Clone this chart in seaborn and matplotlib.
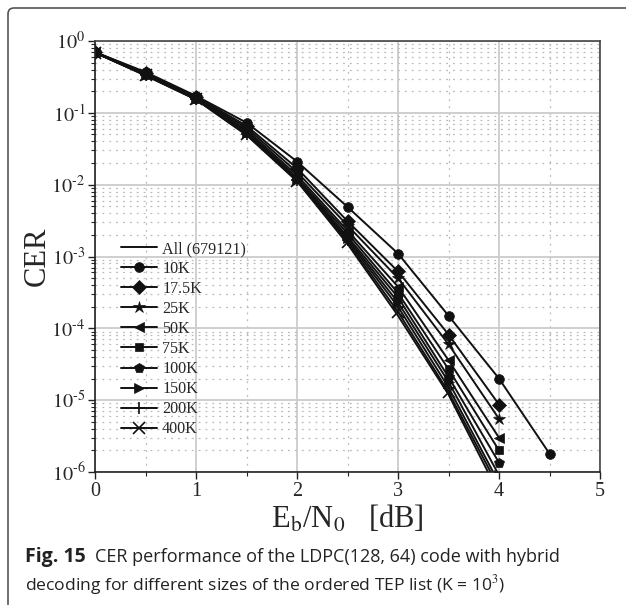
import numpy as np
import pandas as pd
import matplotlib
matplotlib.use("Agg")
import matplotlib.pyplot as plt
import seaborn as sns
from matplotlib.ticker import LogLocator, MultipleLocator, FixedLocator, NullFormatter
from matplotlib.path import Path
from matplotlib.patches import PathPatch

ebn0 = [0, 0.5, 1, 1.5, 2, 2.5, 3, 3.5, 4, 4.5]
labels = ["All (679121)", "10K", "17.5K", "25K", "50K", "75K", "100K", "150K", "200K", "400K"]
cer_all = [0.69, 0.33, 0.153, 0.049, 0.0112, 0.0015, 1.5e-4, 1.2e-5, 5e-7]
cer_10k = [0.70, 0.37, 0.172, 0.073, 0.021, 0.0049, 0.0011, 1.5e-4, 2.0e-5, 1.8e-6]
cer_17k = [0.70, 0.36, 0.168, 0.066, 0.017, 0.0031, 6.2e-4, 8.2e-5, 8.7e-6]
cer_25k = [0.70, 0.355, 0.165, 0.062, 0.015, 0.0027, 5.0e-4, 6.0e-5, 5.5e-6]
cer_50k = [0.70, 0.35, 0.162, 0.058, 0.0135, 0.0023, 3.8e-4, 3.6e-5, 3.0e-6]
cer_75k = [0.70, 0.345, 0.160, 0.055, 0.0125, 0.0021, 3.1e-4, 2.7e-5, 2.0e-6]
cer_100k = [0.69, 0.34, 0.158, 0.053, 0.012, 0.0019, 2.7e-4, 2.1e-5, 1.35e-6]
cer_150k = [0.69, 0.34, 0.157, 0.052, 0.0117, 0.0018, 2.3e-4, 1.8e-5, 9e-7]
cer_200k = [0.69, 0.335, 0.155, 0.051, 0.0115, 0.0017, 2.0e-4, 1.5e-5, 7e-7]
cer_400k = [0.69, 0.335, 0.154, 0.050, 0.0113, 0.0016, 1.7e-4, 1.3e-5, 6e-7]
series = [cer_all, cer_10k, cer_17k, cer_25k, cer_50k, cer_75k, cer_100k, cer_150k, cer_200k, cer_400k]
markers = [None, "o", "D", "*", "<", "s", "p", ">", "+", "x"]
msizes = [0, 7, 7, 9, 7, 6, 7.5, 7, 9, 8]

xticks = [0, 1, 2, 3, 4, 5]
ytick_exps = [-6, -5, -4, -3, -2, -1, 0]
ytick_labels = [r"$10^{\text{%d}}$" % e for e in ytick_exps]

sns.set_theme(style="white")
plt.rcParams["font.family"] = ["Liberation Serif", "DejaVu Serif"]
plt.rcParams["mathtext.fontset"] = "stix"
plt.rcParams["axes.unicode_minus"] = False

W, H = 626, 605
fig = plt.figure(figsize=(W / 100, H / 100), dpi=100)
ax = fig.add_axes([95 / W, 1 - 472 / H, (600 - 95) / W, (472 - 41) / H])

rows = []
for lab, vals in zip(labels, series):
    for xv, yv in zip(ebn0, vals):
        rows.append({"x": xv, "y": yv, "series": lab})
df = pd.DataFrame(rows)

for lab, mk, ms in zip(labels, markers, msizes):
    sub = df[df["series"] == lab]
    kw = dict(marker=mk, markersize=ms, markeredgewidth=1.2 if mk in ("+", "x") else 0.5,
              markeredgecolor="#111111") if mk else {}
    sns.lineplot(data=sub, x="x", y="y", ax=ax, color="#111111", linewidth=1.4,
                 label=lab, estimator=None, sort=False, **kw)

ax.set_yscale("log")
ax.set_xlim(0, 5)
ax.set_ylim(1e-6, 1)

ax.xaxis.set_major_locator(FixedLocator(xticks))
ax.set_xticklabels([str(t) for t in xticks])
ax.xaxis.set_minor_locator(MultipleLocator(0.5))
ax.yaxis.set_major_locator(FixedLocator([10.0 ** e for e in ytick_exps]))
ax.set_yticklabels(ytick_labels)
ax.yaxis.set_minor_locator(LogLocator(base=10, subs=np.arange(2, 10), numticks=20))
ax.yaxis.set_minor_formatter(NullFormatter())

ax.grid(which="major", color="#cccccc", linewidth=1.3, linestyle="-")
ax.grid(which="minor", color="#bbbbbb", linewidth=0.9, linestyle=(0, (1.5, 4)))
ax.set_axisbelow(True)

ax.tick_params(axis="both", which="major", direction="out", length=5, width=1,
               labelsize=14.5, color="#222222", pad=2, bottom=True, left=True)
ax.tick_params(axis="both", which="minor", direction="out", length=3, width=0.8,
               color="#222222", bottom=True, left=True)
for s in ["left", "bottom"]:
    ax.spines[s].set_color("#222222")
    ax.spines[s].set_linewidth(1.2)
for s in ["top", "right"]:
    ax.spines[s].set_color("#444444")
    ax.spines[s].set_linewidth(1.2)

ax.set_ylabel("CER", fontsize=22)
ax.yaxis.set_label_coords(-0.085, 0.5)
ax.set_xlabel(r"E$_{\mathrm{b}}$/N$_{\mathrm{0}}$   [dB]", fontsize=22, labelpad=2)

leg = ax.legend(loc="upper left", bbox_to_anchor=(0.0515, 0.536), frameon=False,
                fontsize=11.6, handlelength=2.25, handletextpad=0.3, labelspacing=0.25,
                borderaxespad=0, borderpad=0)

# figure border (left and top with rounded corner)
r = 6
verts = [(8 / W, 0), (8 / W, 1 - (8 + r) / H), (8 / W, 1 - 8 / H), ((8 + r) / W, 1 - 8 / H), (1, 1 - 8 / H)]
codes = [Path.MOVETO, Path.LINETO, Path.CURVE3, Path.CURVE3, Path.LINETO]
fig.patches.append(PathPatch(Path(verts, codes), transform=fig.transFigure,
                             fill=False, edgecolor="#555555", linewidth=1.2))

cap_font = ["Open Sans", "DejaVu Sans"]
fig.text(25 / W, 1 - 562 / H, "Fig. 15", fontsize=14, fontweight="bold",
         family=cap_font, va="baseline", color="#222222")
fig.text(95 / W, 1 - 562 / H, "CER performance of the LDPC(128, 64) code with hybrid",
         fontsize=13.0, family=cap_font, va="baseline", color="#222222")
fig.text(25 / W, 1 - 590 / H, r"decoding for different sizes of the ordered TEP list (K = 10$^{3}$)",
         fontsize=12.6, family=cap_font, va="baseline", color="#222222")

fig.savefig("out.png", dpi=100)
